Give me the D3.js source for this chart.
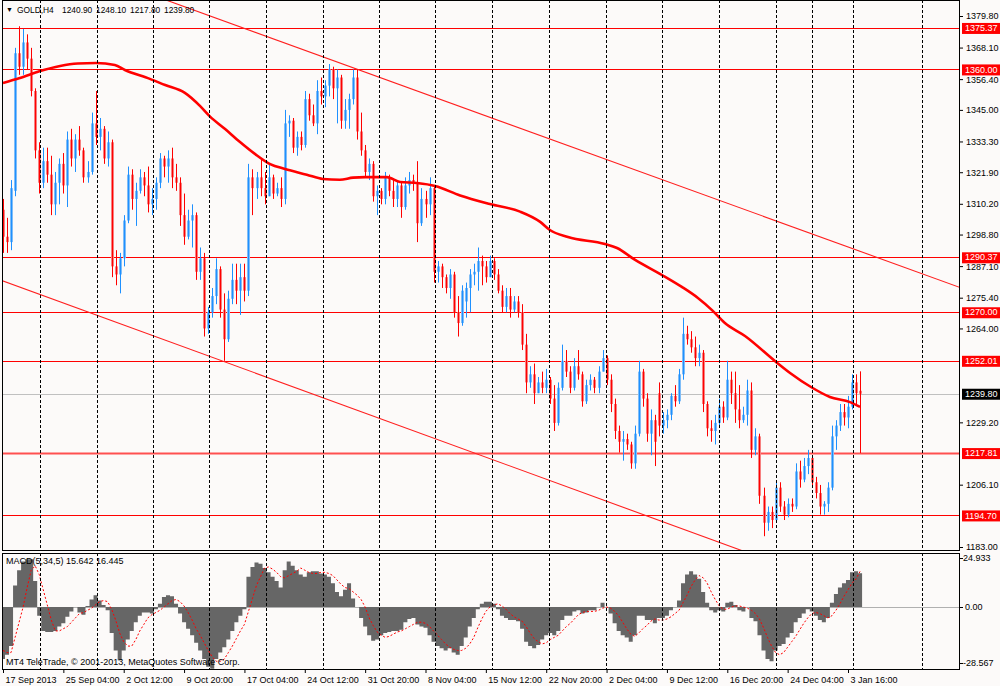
<!DOCTYPE html>
<html><head><meta charset="utf-8">
<script src="https://cdn.jsdelivr.net/npm/d3@7"></script>
<style>
html,body{margin:0;padding:0;background:#fcfaf9;}
svg{display:block;font-family:"Liberation Sans",Arial,sans-serif;}
</style></head><body>
<svg id="c" width="1000" height="686"></svg>
<script>
// ---------- DATA (H4 candles) ----------
const opens=[1308,1298,1296,1315,1366,1361,1370,1364,1352,1330,1318,1326,1321,1310,1318,1325,1317,1334,1327,1334,
1330,1320,1322,1340,1335,1338,1327,1333,1287,1284,1290,1304,1321,1312,1315,1320,1317,1310,1312,1318,
1327,1324,1327,1320,1318,1306,1298,1304,1306,1285,1290,1264,1270,1276,1286,1271,1260,1275,1282,1278,
1283,1278,1320,1316,1320,1316,1313,1320,1314,1316,1312,1340,1341,1331,1335,1332,1349,1343,1340,1352,
1350,1354,1360,1353,1357,1341,1345,1349,1357,1337,1330,1322,1325,1313,1315,1312,1320,1315,1312,1317,
1309,1317,1319,1318,1303,1312,1310,1316,1285,1287,1283,1279,1284,1270,1266,1274,1279,1284,1285,1289,
1287,1283,1289,1284,1278,1272,1276,1271,1274,1270,1258,1244,1247,1240,1244,1242,1245,1238,1229,1242,
1252,1248,1242,1250,1247,1237,1243,1245,1242,1248,1253,1245,1236,1226,1222,1223,1221,1214,1225,1248,
1238,1225,1230,1240,1228,1230,1232,1239,1237,1247,1262,1260,1257,1253,1255,1236,1227,1226,1229,1235,
1231,1245,1240,1234,1230,1232,1241,1219,1224,1202,1192,1196,1193,1205,1198,1195,1199,1198,1211,1208,
1213,1216,1207,1203,1198,1199,1205,1224,1228,1233,1231,1235,1244,1240.9];
const highs=[1312,1305,1319,1368,1376,1375,1373,1368,1353,1333,1331,1331,1328,1322,1327,1329,1337,1338,1336,1339,
1331,1326,1344,1352,1342,1339,1337,1334,1293,1292,1306,1324,1323,1318,1323,1322,1324,1316,1320,1329,
1328,1330,1331,1325,1320,1314,1308,1310,1307,1294,1292,1272,1279,1290,1287,1277,1278,1288,1288,1288,
1288,1325,1323,1322,1327,1322,1325,1321,1318,1320,1345,1343,1342,1337,1337,1352,1351,1347,1356,1357,
1356,1362,1361,1360,1358,1349,1351,1360,1360,1344,1332,1327,1326,1317,1316,1322,1321,1319,1319,1318,
1320,1322,1321,1326,1316,1315,1320,1317,1289,1288,1284,1286,1285,1276,1280,1281,1286,1288,1294,1291,
1289,1291,1290,1286,1280,1279,1279,1276,1276,1273,1262,1250,1251,1246,1248,1249,1246,1243,1244,1258,
1256,1250,1253,1256,1248,1245,1247,1246,1250,1256,1254,1247,1238,1228,1226,1225,1222,1228,1252,1249,
1240,1234,1232,1244,1233,1234,1240,1243,1249,1268,1265,1263,1261,1258,1256,1237,1230,1232,1238,1237,
1252,1248,1248,1243,1235,1245,1244,1227,1225,1205,1198,1198,1207,1207,1200,1201,1201,1214,1215,1216,
1219,1217,1209,1206,1200,1207,1228,1230,1236,1236,1239,1247,1247,1248.1];
const lows=[1292,1292,1293,1313,1358,1358,1360,1350,1327,1314,1316,1318,1306,1306,1310,1314,1309,1324,1322,1328,
1318,1318,1321,1332,1330,1325,1324,1283,1280,1277,1287,1303,1308,1302,1314,1313,1307,1306,1308,1316,
1320,1318,1316,1315,1302,1295,1297,1294,1282,1282,1261,1262,1268,1273,1268,1252,1259,1273,1273,1269,
1274,1276,1306,1312,1313,1310,1313,1312,1313,1309,1310,1335,1329,1328,1330,1331,1341,1339,1336,1347,
1346,1350,1349,1340,1338,1338,1338,1347,1334,1328,1320,1319,1311,1306,1310,1310,1313,1309,1309,1305,
1308,1314,1315,1296,1302,1305,1306,1281,1281,1279,1277,1275,1268,1261,1265,1268,1270,1280,1278,1280,
1281,1283,1282,1277,1270,1270,1268,1270,1268,1256,1240,1242,1236,1240,1240,1240,1236,1226,1228,1241,
1246,1240,1241,1245,1235,1236,1241,1240,1240,1248,1243,1233,1223,1218,1215,1219,1212,1212,1224,1235,
1222,1217,1213,1224,1225,1227,1230,1235,1236,1245,1258,1255,1250,1250,1233,1224,1222,1221,1228,1229,
1230,1236,1229,1227,1229,1228,1216,1217,1199,1187,1189,1190,1192,1196,1193,1194,1196,1197,1205,1207,
1210,1205,1201,1195,1195,1196,1204,1219,1226,1228,1227,1234,1236,1217.8];
const closes=[1298,1296,1316,1366,1361,1370,1364,1352,1330,1318,1326,1321,1310,1318,1325,1317,1334,1327,1334,1330,
1320,1322,1340,1335,1338,1327,1333,1287,1284,1290,1304,1321,1312,1315,1320,1317,1310,1312,1318,1327,
1324,1327,1320,1318,1306,1298,1304,1306,1285,1290,1264,1270,1276,1286,1271,1260,1275,1282,1278,1283,
1278,1320,1316,1320,1316,1313,1320,1314,1316,1312,1340,1341,1331,1335,1332,1349,1343,1340,1352,1350,
1354,1360,1353,1357,1341,1345,1349,1357,1337,1330,1322,1325,1313,1315,1312,1320,1315,1312,1317,1309,
1317,1319,1318,1303,1312,1310,1316,1285,1287,1283,1279,1284,1270,1266,1278,1279,1284,1285,1289,1287,
1283,1289,1284,1278,1272,1276,1271,1274,1270,1258,1244,1247,1240,1244,1242,1245,1238,1229,1242,1252,
1248,1242,1250,1247,1237,1243,1245,1242,1248,1253,1245,1236,1226,1222,1223,1221,1214,1225,1248,1238,
1225,1230,1222,1228,1230,1232,1239,1237,1247,1262,1260,1257,1253,1255,1236,1227,1226,1229,1235,1231,
1245,1240,1234,1230,1232,1241,1219,1224,1202,1192,1196,1193,1205,1198,1195,1199,1198,1211,1208,1213,
1216,1207,1203,1198,1199,1205,1224,1228,1233,1231,1235,1244,1240,1239.8];

// moving average read at bar positions
const maBars=[0,4.2,9.2,14.2,18.6,23.1,27.8,30.3,36.5,40.3,45.2,49,51.4,55.2,58.9,62.6,66.4,70.1,75.5,79.5,
83.7,87,90,95.4,98.7,102.9,107.4,113.6,121,128.5,133.5,135.9,140.4,149.6,152.6,157.1,163.8,168.7,172.7,176.2,
179.4,184.4,192.1,195.6,200.8,205.5,210.5,213];
const maValues=[1355.0,1356.8,1359.4,1361.3,1362.2,1362.4,1361.6,1359.8,1356.5,1354.2,1351.3,1346.4,1342.6,1337.9,1333.1,1328.7,1324.9,1323.1,1321.0,1319.4,
1319.1,1319.9,1320.1,1320.1,1318.3,1317.9,1316.8,1313.3,1310.1,1307.3,1303.5,1300.5,1297.9,1295.3,1293.8,1289.4,1283.8,1279.4,1275.3,1270.8,
1266.0,1261.2,1251.6,1247.5,1242.3,1238.6,1236.7,1234.9];

// MACD(5,34,5) histogram and signal
const macdHist=[-24,-22,-18,10,17,21,22,22,12,-4,-11,-11.5,-11.5,-11,-9,-7.5,-4.5,-2,0,-2.5,
-3.5,0.5,3.5,5.4,3,1,-1.5,-12,-20,-24.5,-20,-15,-11,-7,-4,-2.5,-2.5,-3,-1,1.5,
4.6,5.4,5,1.5,-3,-7,-10,-13,-16.5,-20,-24,-27.5,-28.5,-24,-21,-18.5,-15,-11,-7,-4,
-1,14,18.5,20.5,20,18,16,14,12,9,17,21,19,17,15,14,16,16.5,16.5,15.5,
15,14,11,7,5,8,11,4,0,-5,-9,-13,-15.5,-15,-13,-12,-11.5,-11,-11,-10.5,
-7,-5.5,-5,-8,-9,-9.5,-13,-16,-18,-19,-20,-19,-21,-22,-18,-14,-9,-5,-1,1.5,
2.5,2.5,1.5,-1,-4,-5,-6,-6,-6.5,-10,-16,-18,-19,-17.5,-15,-13,-12,-13,-11,-6,
-4,-4,-2,-1.5,-3,-2.5,-1.5,-1.5,0,2,0,-3,-7.5,-11,-13,-14,-16,-13,-4,-4,
-6,-6,-7.5,-5,-5,-4,-1.5,0,3,11,15,16.5,15,13,7,2,-1.5,-2.5,-1.5,-2,
2,2.5,1,-1.5,-2,0,-5,-6.5,-13,-20,-24,-25,-20,-18,-17,-14,-12,-7,-5,-3,
-1,-2,-4,-6,-7,-5,2,6,9,11,12.5,16,16.5,15.642];
const macdSignal=[-20,-21,-21,-14,-7,0,9,17,19,15,8,1,-6,-11,-11,-10,-9,-7,-5,-3,
-2.5,-1.5,-0.5,1,2.5,3,2.5,-1,-6,-12,-16,-18,-18,-15,-11,-8,-5,-3.5,-2.5,-1.5,
0,1.5,3,3.5,2.5,0.5,-2.5,-6,-10,-13,-16.5,-20,-23,-25,-25,-24,-21,-18,-14.5,-11,
-8,-2,4,10,14,18,18.5,17.5,16,14,13.5,14.5,15.5,16.5,18,17,16,15.5,15.5,16,
16,15.5,14.5,12.5,10.5,9,8.5,7,5.5,3.5,0,-5,-8.5,-11.5,-13,-14,-13.5,-12.5,-11.5,-11,
-10,-9,-8,-7,-7,-7.5,-9,-11,-13,-15,-17,-18.5,-19.5,-20,-20,-19,-17,-14,-9.5,-5.5,
-2,0,1,1.5,0.5,-1,-3,-4.5,-5.5,-6.5,-9,-12,-14.5,-16,-17,-16.5,-15,-14,-13,-11,
-9,-7.5,-5.5,-3.5,-2.5,-2,-2,-2,-1.5,-0.5,0,-0.5,-2,-4,-7,-10,-12.5,-13.5,-12,-10,
-8.5,-6.5,-5.5,-6,-6,-5.5,-4.5,-3,-1.5,2,5.5,9.5,12.5,14.5,13.5,11,7,3.5,0.5,-1,
-1,0,0.5,0.5,0,-0.5,-1.5,-3,-5.5,-9.5,-14,-18,-21,-22,-21,-18.5,-16,-13.5,-10.5,-7.5,
-5,-3,-2.5,-3,-4,-5,-4,-1.5,1.5,5,8,11,13,16.445];

const levels=[1375.37,1360.00,1290.37,1270.00,1252.01,1217.81,1194.70];
const lastPrice=1239.80;
const priceTicks=[1379.80,1368.10,1356.40,1345.00,1333.30,1321.90,1310.20,1298.80,1287.10,1275.40,1264.00,1229.20,1206.10,1183.00];
const macdTicks=[24.933,0,-28.567];
const timeLabels=["17 Sep 2013","25 Sep 04:00","2 Oct 12:00","9 Oct 20:00","17 Oct 04:00","24 Oct 12:00","31 Oct 20:00","8 Nov 04:00","15 Nov 12:00","22 Nov 20:00","2 Dec 04:00","9 Dec 12:00","16 Dec 20:00","24 Dec 04:00","3 Jan 16:00"];
const timeLabelBars=[0,15,30,45,60,75,90,105,120,135,150,165,180,195,210];
const gridBars=[9.2,23.4,37.3,51.2,65.4,79.5,93.4,107.4,121.5,135.7,149.9,163.8,177.9,192.1,201.1,211.2,228.4];
const channelUpper=[[71.3,1369.1],[237.8,1279.2]];
const channelLower=[[0,1281.6],[183.2,1181.9]];
const headerParts=["GOLD,H4","1240.90","1248.10","1217.80","1239.80"];
const macdTitle="MACD(5,34,5) 15.642 16.445";
const copyright="MT4 TeleTrade, \u00A9 2001-2013, MetaQuotes Software Corp.";

// ---------- LAYOUT ----------
const svg=d3.select("#c");
const L=2, R=960, mainTop=0, mainBot=551, mTop=553, mBot=669;
const x=d3.scaleLinear().domain([0,210]).range([3,848]);
const y=d3.scaleLinear().domain([1183,1379.8]).range([547,16]);
const m=d3.scaleLinear().domain([-28.567,24.933]).range([mBot,mTop]);
const FONT=9;

svg.append("rect").attr("width",1000).attr("height",686).attr("fill","#fcfaf9");

const defs=svg.append("defs");
defs.append("clipPath").attr("id","clipMain").append("rect").attr("x",L).attr("y",mainTop).attr("width",R-L).attr("height",mainBot-mainTop);
defs.append("clipPath").attr("id","clipMacd").append("rect").attr("x",L).attr("y",mTop).attr("width",R-L).attr("height",mBot-mTop);

const main=svg.append("g").attr("clip-path","url(#clipMain)");
const macd=svg.append("g").attr("clip-path","url(#clipMacd)");

// MACD zero line + histogram (drawn first, grid on top)
macd.append("line").attr("x1",L).attr("x2",R).attr("y1",Math.round(m(0))+0.5).attr("y2",Math.round(m(0))+0.5)
  .attr("stroke","#b0b0b0");
const histPts=[];
macdHist.forEach((v,i)=>{ histPts.push([i-0.5,v]); histPts.push([i+0.5,v]); });
macd.append("path").datum(histPts)
  .attr("d",d3.area().x(d=>x(d[0])).y0(m(0)).y1(d=>m(d[1])))
  .attr("fill","#666666").attr("stroke","none");

// grid (dotted vertical lines)
gridBars.forEach(g=>{
  const gx=Math.round(x(g))+0.5;
  [[mainTop,mainBot],[mTop,mBot]].forEach(r=>{
    svg.append("line").attr("x1",gx).attr("x2",gx).attr("y1",r[0]).attr("y2",r[1])
      .attr("stroke","#000").attr("stroke-width",1).attr("stroke-dasharray","3,2");
  });
});

// horizontal levels
levels.forEach(v=>{
  const yy=Math.round(y(v))+0.5;
  const thick = v===1217.81;
  main.append("line").attr("x1",L).attr("x2",R).attr("y1",yy).attr("y2",yy)
    .attr("stroke",thick?"#ff5050":"#ff0000").attr("stroke-width",thick?2:1);
});
// last price line
main.append("line").attr("x1",L).attr("x2",R).attr("y1",Math.round(y(lastPrice))+0.5).attr("y2",Math.round(y(lastPrice))+0.5)
  .attr("stroke","#c0c0c0").attr("stroke-width",1);

// channel lines
function extLine(p){
  const s=(p[1][1]-p[0][1])/(p[1][0]-p[0][0]);
  const a=-10,b=260;
  return [[a,p[0][1]+s*(a-p[0][0])],[b,p[0][1]+s*(b-p[0][0])]];
}
[channelUpper,channelLower].forEach(c=>{
  const e=extLine(c);
  main.append("line").attr("x1",x(e[0][0])).attr("y1",y(e[0][1])).attr("x2",x(e[1][0])).attr("y2",y(e[1][1]))
    .attr("stroke","#ff2020").attr("stroke-width",1.1);
});

// candles
const cg=main.append("g");
closes.forEach((c,i)=>{
  const o=opens[i],h=highs[i],l=lows[i];
  const up=c>=o;
  const cx=Math.round(x(i));
  const top=y(Math.max(o,c)), bot=y(Math.min(o,c));
  cg.append("rect").attr("x",cx-1).attr("width",3).attr("y",top).attr("height",Math.max(1,bot-top))
    .attr("fill",up?"#80bdf7":"#f78080");
  cg.append("line").attr("x1",cx+0.5).attr("x2",cx+0.5).attr("y1",y(h)).attr("y2",y(l))
    .attr("stroke",up?"#1e90ff":"#ff0000").attr("stroke-width",1);
});

// moving average
const maPts=maBars.map((b,i)=>[b,maValues[i]]);
main.append("path").datum(maPts)
  .attr("d",d3.line().x(d=>x(d[0])).y(d=>y(d[1])).curve(d3.curveMonotoneX))
  .attr("fill","none").attr("stroke","#ff0000").attr("stroke-width",2.6);

// MACD signal
macd.append("path").datum(macdSignal)
  .attr("d",d3.line().x((d,i)=>x(i)).y(d=>m(d)))
  .attr("fill","none").attr("stroke","#ff0000").attr("stroke-width",1).attr("stroke-dasharray","2,2");

// pane borders
svg.append("rect").attr("x",L+0.5).attr("y",mainTop+0.5).attr("width",R-L-1).attr("height",mainBot-mainTop-1)
  .attr("fill","none").attr("stroke","#000");
svg.append("rect").attr("x",L+0.5).attr("y",mTop+0.5).attr("width",R-L-1).attr("height",mBot-mTop)
  .attr("fill","none").attr("stroke","#000");

// price axis
const pa=svg.append("g").attr("transform",`translate(${R},0)`)
  .call(d3.axisRight(y).tickValues(priceTicks).tickSize(3).tickPadding(3).tickFormat(d3.format(".2f")));
pa.select(".domain").remove();
pa.selectAll("text").attr("font-size",FONT).attr("font-family","Liberation Sans, Arial, sans-serif").attr("fill","#000");
pa.selectAll("line").attr("stroke","#000");

// level labels
levels.forEach(v=>{
  const yy=y(v);
  svg.append("rect").attr("x",962).attr("y",yy-5).attr("width",38).attr("height",11).attr("fill","#ff0000");
  svg.append("text").attr("x",965).attr("y",yy).attr("dy","0.35em").attr("font-size",FONT).attr("fill","#fff").text(v.toFixed(2));
});
{
  const yy=y(lastPrice);
  svg.append("rect").attr("x",962).attr("y",yy-5).attr("width",38).attr("height",11).attr("fill","#000");
  svg.append("text").attr("x",965).attr("y",yy).attr("dy","0.35em").attr("font-size",FONT).attr("fill","#fff").text(lastPrice.toFixed(2));
}

// MACD axis labels
macdTicks.forEach(v=>{
  let yy=m(v);
  if(v===macdTicks[0]) yy+=5;
  if(v===macdTicks[2]) yy-=6;
  svg.append("text").attr("x",v===0?965:963).attr("y",yy).attr("dy","0.35em").attr("font-size",FONT).attr("fill","#000")
    .text(v===0?"0.00":String(v));
  svg.append("line").attr("x1",R).attr("x2",R+3).attr("y1",Math.round(yy)+0.5).attr("y2",Math.round(yy)+0.5).attr("stroke","#000");
});

// time axis
const ta=svg.append("g").attr("transform",`translate(0,${mBot})`)
  .call(d3.axisBottom(x).tickValues(timeLabelBars).tickSize(4).tickPadding(4).tickFormat((d,i)=>timeLabels[i]));
ta.select(".domain").remove();
ta.selectAll("text").attr("font-size",FONT).attr("font-family","Liberation Sans, Arial, sans-serif").attr("fill","#000")
  .attr("text-anchor","start").attr("dx",2);
ta.selectAll("line").attr("stroke","#000");

// header
svg.append("text").attr("x",6).attr("y",12).attr("font-size",7).attr("fill","#000").text("\u25BC");
const hx=[17,62,96,130,164];
headerParts.forEach((t,i)=>{
  svg.append("text").attr("x",hx[i]).attr("y",13).attr("font-size",8.4).attr("fill","#000").text(t);
});
svg.append("text").attr("x",6).attr("y",564).attr("font-size",FONT).attr("fill","#000").text(macdTitle);
svg.append("text").attr("x",6).attr("y",665).attr("font-size",FONT).attr("fill","#000").text(copyright);
</script>
</body></html>
